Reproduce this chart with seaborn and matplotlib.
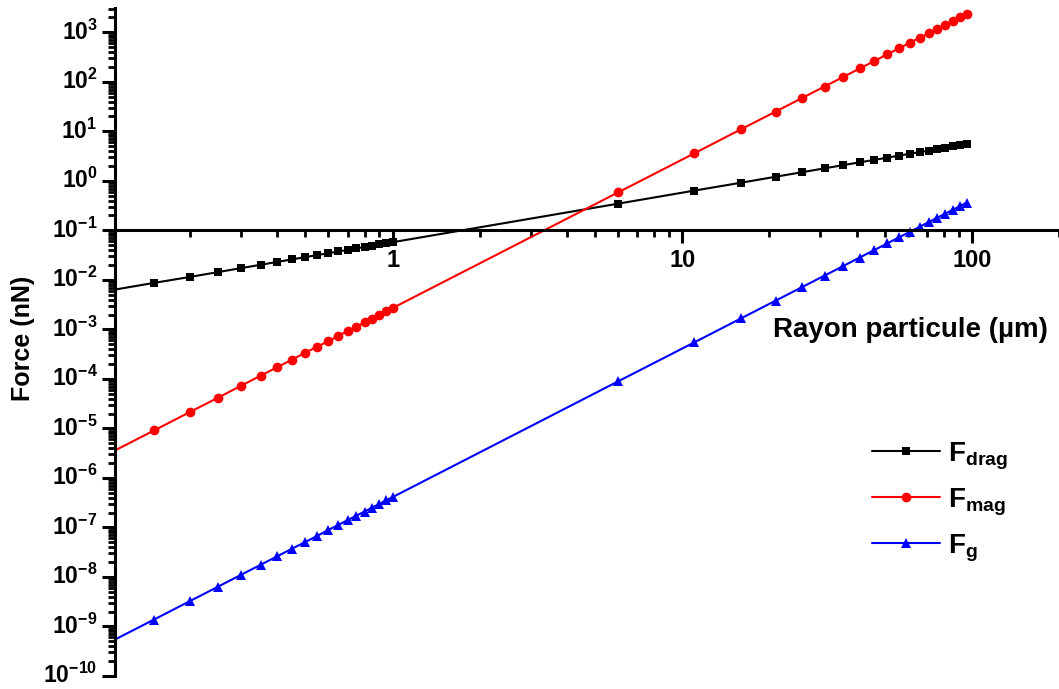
import matplotlib
matplotlib.use("Agg")
import matplotlib.pyplot as plt
import matplotlib.ticker as mticker
import matplotlib.transforms as mtransforms
import numpy as np
import seaborn as sns
import pandas as pd

# particle radius (um)
radius = [0.1, 0.15, 0.2, 0.25, 0.3, 0.35, 0.4, 0.45, 0.5, 0.55, 0.6, 0.65, 0.7,
          0.75, 0.8, 0.85, 0.9, 0.95, 1.0, 6, 11, 16, 21, 26, 31, 36, 41, 46, 51,
          56, 61, 66, 71, 76, 81, 86, 91, 96]

# forces (nN)
f_drag = [0.0058, 0.0087, 0.0115, 0.0144, 0.0173, 0.0202, 0.0231, 0.026, 0.0289,
          0.0318, 0.0346, 0.0375, 0.0404, 0.0433, 0.0462, 0.049, 0.052, 0.0548,
          0.0577, 0.346, 0.635, 0.92, 1.21, 1.5, 1.79, 2.08, 2.37, 2.65, 2.94,
          3.23, 3.52, 3.81, 4.1, 4.39, 4.67, 4.96, 5.25, 5.54]
f_mag = [2.7e-6, 9.1e-6, 2.16e-5, 4.2e-5, 7.3e-5, 1.16e-4, 1.73e-4, 2.46e-4,
         3.4e-4, 4.5e-4, 5.8e-4, 7.4e-4, 9.3e-4, 1.14e-3, 1.38e-3, 1.66e-3,
         1.97e-3, 2.3e-3, 2.7e-3, 0.583, 3.59, 11.1, 25.0, 47.5, 80.4, 126, 186,
         263, 358, 474, 613, 776, 966, 1185, 1435, 1717, 2035, 2389]
f_g = [4.1e-10, 1.38e-9, 3.28e-9, 6.4e-9, 1.11e-8, 1.76e-8, 2.62e-8, 3.74e-8,
       5.1e-8, 6.8e-8, 8.9e-8, 1.13e-7, 1.41e-7, 1.73e-7, 2.1e-7, 2.52e-7,
       2.99e-7, 3.52e-7, 4.1e-7, 8.9e-5, 5.46e-4, 1.68e-3, 3.8e-3, 7.2e-3,
       1.22e-2, 1.91e-2, 2.83e-2, 3.99e-2, 5.44e-2, 7.2e-2, 9.31e-2, 0.118,
       0.147, 0.18, 0.218, 0.261, 0.309, 0.363]

labels = [r'$\mathdefault{F}_{\mathdefault{drag}}$',
          r'$\mathdefault{F}_{\mathdefault{mag}}$',
          r'$\mathdefault{F}_{\mathdefault{g}}$']
x_ticks = [1, 10, 100]
x_ticklabels = ['1', '10', '100']

sns.set_style('ticks', rc={'axes.edgecolor': 'black', 'text.color': 'black',
                           'xtick.color': 'black', 'ytick.color': 'black',
                           'axes.labelcolor': 'black'})
plt.rcParams['font.family'] = ['Liberation Sans', 'DejaVu Sans']
plt.rcParams['font.weight'] = 'bold'

df = pd.DataFrame({'r': radius, 'drag': f_drag, 'mag': f_mag, 'g': f_g})

fig = plt.figure(figsize=(10.59, 6.89), dpi=100)
ax = fig.add_axes([115 / 1059, 13 / 689, 944 / 1059, 668 / 689])

styles = [('drag', 'black', 's', 6.0), ('mag', 'red', 'o', 7.0), ('g', 'blue', '^', 7.5)]
for (col, color, mk, ms), lab in zip(styles, labels):
    sns.lineplot(data=df, x='r', y=col, ax=ax, color=color, marker=mk,
                 markersize=ms, markeredgewidth=0, linewidth=1.5, label=lab)

ax.set_xscale('log')
ax.set_yscale('log')
ax.set_xlim(0.11, 200)
ax.set_ylim(1e-10, 3.1e3)

ax.spines['top'].set_visible(False)
ax.spines['right'].set_visible(False)
ax.spines['bottom'].set_position(('data', 0.1))
for s in ['left', 'bottom']:
    ax.spines[s].set_linewidth(2.2)

ax.set_xticks(x_ticks, labels=x_ticklabels)
ax.xaxis.set_minor_locator(mticker.LogLocator(base=10, subs=np.arange(2, 10), numticks=100))
ax.xaxis.set_minor_formatter(mticker.NullFormatter())
ax.yaxis.set_major_locator(mticker.LogLocator(base=10, numticks=100))
ax.yaxis.set_minor_locator(mticker.LogLocator(base=10, subs=np.arange(2, 10), numticks=100))
ax.yaxis.set_minor_formatter(mticker.NullFormatter())

ax.tick_params(which='major', direction='out', length=9.5, width=2.2, labelsize=16.5, pad=3)
ax.tick_params(which='minor', direction='out', length=5, width=2.0)
ax.tick_params(axis='x', which='major', pad=4, labelsize=17)

ax.set_xlabel('')
ax.set_ylabel('')
fig.text(1048 / 1059, 1 - 337 / 689, 'Rayon particule (µm)', ha='right', va='baseline',
         fontsize=20, fontweight='bold')
fig.text(23 / 1059, 1 - 338 / 689, 'Force (nN)', ha='center', va='center', rotation=90,
         fontsize=18, fontweight='bold')

ax.legend(loc='upper left', bbox_to_anchor=(872 / 1059, 1 - 440 / 689),
          bbox_transform=fig.transFigure, frameon=False, fontsize=20,
          handlelength=2.45, handletextpad=0.3, borderpad=0, borderaxespad=0,
          labelspacing=0.52)

# lift the y tick labels a little so the digits sit on the tick
fig.canvas.draw()
lift = mtransforms.ScaledTranslation(0, 3 / 100, fig.dpi_scale_trans)
for t in ax.yaxis.get_major_ticks():
    t.label1.set_transform(t.label1.get_transform() + lift)

fig.savefig('out.png', dpi=100)
